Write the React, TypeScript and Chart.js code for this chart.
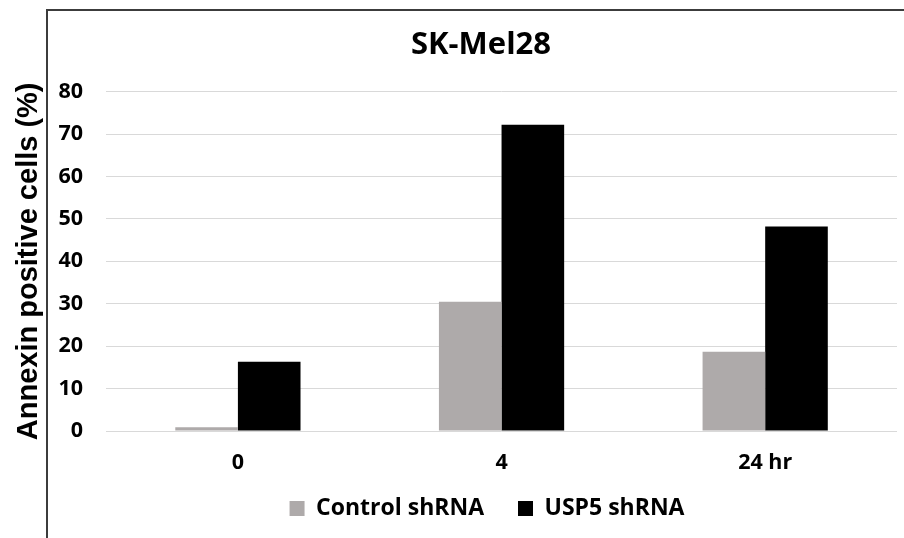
import React, { useEffect, useRef } from "react";
import { Chart, registerables } from "chart.js";

Chart.register(...registerables);

const categories = ["0", "4", "24 hr"];
const controlValues = [0.9, 30.5, 18.7];
const usp5Values = [16.3, 72.2, 48.2];
const seriesNames = ["Control shRNA", "USP5 shRNA"];
const chartTitle = "SK-Mel28";
const yAxisTitle = "Annexin positive cells (%)";

const framePlugin = {
  id: "frame",
  beforeDraw(chart: any) {
    const ctx = chart.ctx;
    ctx.save();
    ctx.fillStyle = "#ffffff";
    ctx.fillRect(0, 0, chart.width, chart.height);
    ctx.strokeStyle = "#3c3c3c";
    ctx.lineWidth = 2;
    ctx.beginPath();
    ctx.moveTo(47, chart.height);
    ctx.lineTo(47, 10);
    ctx.lineTo(chart.width, 10);
    ctx.stroke();
    ctx.restore();
  },
  afterLayout(chart: any) {
    if (chart.titleBlock) {
      chart.titleBlock.left = 58;
      chart.titleBlock.right = 904;
    }
    if (chart.legend) {
      chart.legend.left = 70;
      chart.legend.right = 904;
      chart.legend.width = 904 - 70;
      chart.legend.top = 463;
      chart.legend.bottom = 538;
    }
  },
};

export default function App() {
  const canvasRef = useRef<HTMLCanvasElement | null>(null);

  useEffect(() => {
    if (!canvasRef.current) return;
    const chart = new Chart(canvasRef.current, {
      type: "bar",
      data: {
        labels: categories,
        datasets: [
          {
            label: seriesNames[0],
            data: controlValues,
            backgroundColor: "#aeaaaa",
            borderWidth: 0,
          },
          {
            label: seriesNames[1],
            data: usp5Values,
            backgroundColor: "#000000",
            borderWidth: 0,
          },
        ],
      },
      options: {
        animation: false,
        responsive: true,
        maintainAspectRatio: false,
        layout: { padding: { left: 0, right: 7, top: 0, bottom: 7 } },
        datasets: {
          bar: { categoryPercentage: 0.475, barPercentage: 1 },
        },
        plugins: {
          title: {
            display: true,
            text: chartTitle,
            color: "#000000",
            font: { family: "'Open Sans', sans-serif", size: 31, weight: "bold" },
            padding: { top: 26.4, bottom: 28.1 },
          },
          legend: {
            display: true,
            position: "bottom",
            maxHeight: 44,
            labels: {
              color: "#000000",
              boxWidth: 15,
              boxHeight: 15,
              padding: 34,
              font: { family: "'Open Sans', sans-serif", size: 23, weight: "bold" },
            },
          },
          tooltip: { enabled: false },
        },
        scales: {
          x: {
            grid: { display: false },
            border: { display: false },
            ticks: {
              color: "#000000",
              padding: 11.1,
              font: { family: "'Open Sans', sans-serif", size: 21.5, weight: "bold" },
            },
          },
          y: {
            min: 0,
            max: 80,
            border: { display: false },
            grid: { color: "#d9d9d9", lineWidth: 1, drawTicks: false },
            ticks: {
              stepSize: 10,
              color: "#000000",
              padding: 23,
              font: { family: "'Open Sans', sans-serif", size: 21.5, weight: "bold" },
            },
            title: {
              display: true,
              text: yAxisTitle,
              color: "#000000",
              font: { family: "'Liberation Sans', Arial, sans-serif", size: 29, weight: "bold" },
              padding: { top: 11.1, bottom: -10.4 },
            },
          },
        },
      },
      plugins: [framePlugin],
    });
    return () => chart.destroy();
  }, []);

  return (
    <div style={{ position: "fixed", left: 0, top: 0, width: 904, height: 538, background: "#fff" }}>
      <canvas ref={canvasRef} />
    </div>
  );
}
